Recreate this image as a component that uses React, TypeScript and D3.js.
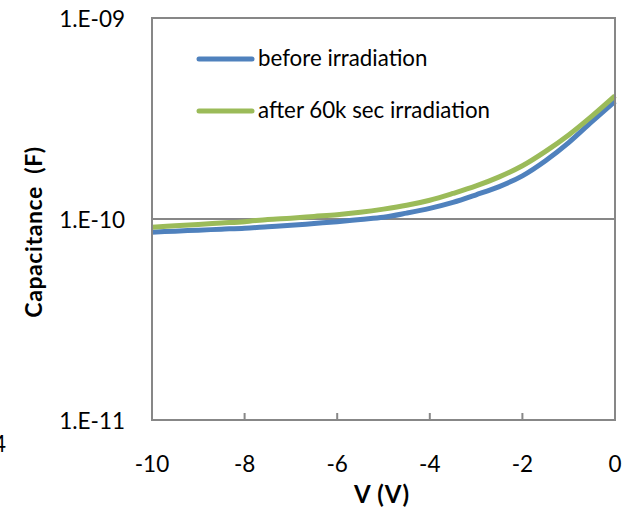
import React from "react";
import * as d3 from "d3";

const voltages = [0, -0.5, -1, -1.5, -2, -2.5, -3, -3.5, -4, -4.5, -5, -5.5, -6, -6.5, -7, -7.5, -8, -8.5, -9, -9.5, -10];
const before = [3.85e-10, 3.05e-10, 2.4e-10, 1.95e-10, 1.64e-10, 1.45e-10, 1.32e-10, 1.21e-10, 1.13e-10, 1.07e-10, 1.02e-10, 9.95e-11, 9.7e-11, 9.5e-11, 9.3e-11, 9.15e-11, 9.0e-11, 8.9e-11, 8.8e-11, 8.7e-11, 8.6e-11];
const after = [4.1e-10, 3.25e-10, 2.62e-10, 2.17e-10, 1.84e-10, 1.62e-10, 1.46e-10, 1.34e-10, 1.24e-10, 1.17e-10, 1.12e-10, 1.08e-10, 1.05e-10, 1.03e-10, 1.01e-10, 9.95e-11, 9.7e-11, 9.55e-11, 9.4e-11, 9.25e-11, 9.1e-11];
const seriesNames = ["before irradiation", "after 60k sec irradiation"];
const seriesColors = ["#4F81BD", "#9BBB59"];
const xTicks = [-10, -8, -6, -4, -2, 0];
const yTicks = [1e-11, 1e-10, 1e-9];
const yTickLabels = ["1.E-11", "1.E-10", "1.E-09"];

export default function App() {
  const W = 631, H = 507;
  const left = 152, right = 615, top = 18, bottom = 420;
  const x = d3.scaleLinear().domain([-10, 0]).range([left, right]);
  const y = d3.scaleLog().domain([1e-11, 1e-9]).range([bottom, top]);
  const line = d3.line<[number, number]>()
    .x((d) => x(d[0]))
    .y((d) => y(d[1]))
    .curve(d3.curveMonotoneX);
  const series = [before, after].map((vals) => vals.map((v, i) => [voltages[i], v] as [number, number]).sort((a, b) => a[0] - b[0]));
  const font = "Lato, 'Open Sans', sans-serif";
  const axisColor = "#878787";
  return (
    <svg width={W} height={H} style={{ position: "absolute", left: 0, top: 0 }} fontFamily={font}>
      <rect x={0} y={0} width={W} height={H} fill="#fff" />
      <line x1={left} x2={right} y1={y(1e-10)} y2={y(1e-10)} stroke={axisColor} strokeWidth={2} />
      {xTicks.map((t) => (
        <g key={t}>
          <line x1={x(t)} x2={x(t)} y1={bottom} y2={bottom - 7} stroke={axisColor} strokeWidth={2} />
          <text x={x(t)} y={472} textAnchor="middle" fontSize={22.5} fill="#000">{t}</text>
        </g>
      ))}
      {yTicks.map((t, i) => (
        <text key={t} x={125} y={y(t) + 9} textAnchor="end" fontSize={22.5} fill="#000">{yTickLabels[i]}</text>
      ))}
      {series.map((s, i) => (
        <path key={i} d={line(s) || ""} fill="none" stroke={seriesColors[i]} strokeWidth={5} strokeLinejoin="round" />
      ))}
      <rect x={left} y={top} width={right - left} height={bottom - top} fill="none" stroke={axisColor} strokeWidth={2} />
      {seriesNames.map((n, i) => (
        <g key={n}>
          <line x1={199} x2={252} y1={59 + i * 52} y2={59 + i * 52} stroke={seriesColors[i]} strokeWidth={5} strokeLinecap="round" />
          <text x={258} y={66 + i * 52} fontSize={22.3} fill="#000">{n}</text>
        </g>
      ))}
      <text x={382} y={503} textAnchor="middle" fontSize={24} letterSpacing={0.8} fontWeight="bold" fill="#000">V (V)</text>
      <text transform="translate(42,232) rotate(-90)" textAnchor="middle" fontSize={23} letterSpacing={0.6} fontWeight="bold" fill="#000" xmlSpace="preserve">{"Capacitance  (F)"}</text>
      <text x={6} y={452} textAnchor="end" fontSize={22.5} fill="#000">4</text>
    </svg>
  );
}
